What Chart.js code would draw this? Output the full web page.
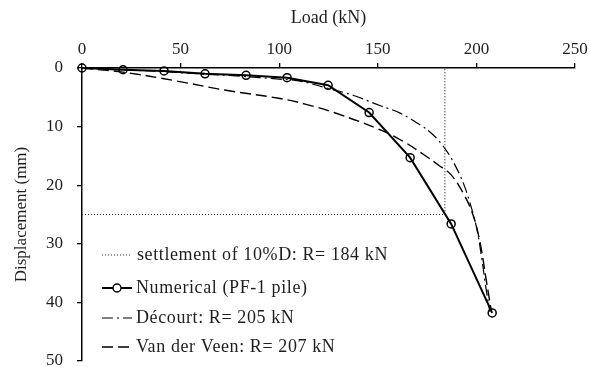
<!DOCTYPE html>
<html>
<head>
<meta charset="utf-8">
<script src="https://cdn.jsdelivr.net/npm/chart.js@4/dist/chart.umd.min.js"></script>
<style>
  html, body { margin: 0; padding: 0; background: #ffffff; }
  #wrap { width: 589px; height: 367px; }
</style>
</head>
<body>
<div id="wrap"><canvas id="c" width="589" height="367"></canvas></div>
<script>
// Load–settlement curves of pile PF-1 and the extrapolated ultimate loads

// Settlement criterion (10% of the diameter): horizontal at 25 mm, vertical at R = 184 kN
const limitLoad = [0, 184, 184];
const limitDisp = [25, 25, 0];

// Numerical model (PF-1 pile)
const numLoad = [0, 20.8, 41.6, 62.4, 83.2, 104, 124.8, 145.6, 166.4, 187.2, 208];
const numDisp = [0, 0.3, 0.5, 1.0, 1.25, 1.65, 2.95, 7.6, 15.3, 26.6, 41.8];

// Décourt extrapolation (R = 205 kN)
const decLoad = [0, 20, 40, 60, 80, 100, 110, 125, 137.4, 151, 161.3, 171.4, 178, 184.6, 189.8, 194.0, 197.6, 200.3, 202.6, 204.6, 206.8];
const decDisp = [0, 0.3, 0.6, 1.0, 1.4, 1.9, 2.2, 3.5, 4.65, 6.4, 7.7, 9.7, 11.4, 14.0, 17.0, 20.2, 24.0, 27.6, 32.2, 37.0, 41.6];

// Van der Veen extrapolation (R = 207 kN)
const vdvLoad = [0, 20.6, 47.7, 73, 100.4, 113.6, 127.8, 151.6, 163.3, 173.4, 180.5, 187.1, 193.7, 198.3, 201.8, 204.9, 207.6];
const vdvDisp = [0, 0.7, 2.2, 3.8, 5.2, 6.2, 7.6, 10.6, 12.6, 14.8, 16.5, 18.2, 21.6, 25.1, 29.7, 36.0, 41.5];

const seriesLabels = [
  'settlement of 10%D: R= 184 kN',
  'Numerical (PF-1 pile)',
  'Décourt: R= 205 kN',
  'Van der Veen: R= 207 kN'
];

const xTitle = 'Load (kN)';
const yTitle = 'Displacement (mm)';

const toPoints = (xs, ys) => xs.map((x, i) => ({ x: x, y: ys[i] }));

const serif = "'Liberation Serif', 'Times New Roman', serif";
const inkColor = '#1e1e1e';

// Legend drawn inside the plot, lower-left corner
const insideLegend = {
  id: 'insideLegend',
  afterDraw(chart) {
    const ctx = chart.ctx;
    const rowsY = [255, 288, 318, 347];
    const x0 = 102, x1 = 132, textX = 136;
    ctx.save();
    chart.data.datasets.forEach((ds, i) => {
      const y = rowsY[i];
      ctx.strokeStyle = ds.borderColor;
      ctx.lineWidth = ds.borderWidth;
      ctx.setLineDash(ds.borderDash || []);
      ctx.beginPath();
      ctx.moveTo(x0, y);
      ctx.lineTo(i === 0 ? 130 : x1, y);
      ctx.stroke();
      ctx.setLineDash([]);
      if (ds.pointRadius > 0) {
        ctx.lineWidth = ds.pointBorderWidth;
        ctx.beginPath();
        ctx.arc((x0 + x1) / 2, y, ds.pointRadius, 0, Math.PI * 2);
        ctx.fillStyle = '#ffffff';
        ctx.fill();
        ctx.stroke();
      }
      ctx.fillStyle = inkColor;
      ctx.font = '18px ' + serif;
      if ('letterSpacing' in ctx) ctx.letterSpacing = '0.6px';
      ctx.textBaseline = 'middle';
      ctx.textAlign = 'left';
      ctx.fillText(ds.label, i === 0 ? 137 : textX, y);
    });
    ctx.restore();
  }
};

// Keep the plot box fixed: no extra room reserved for overhanging tick labels
function zeroScalePadding(scale) {
  scale.paddingLeft = 0;
  scale.paddingRight = 0;
  scale.paddingTop = 0;
  scale.paddingBottom = 0;
}

new Chart(document.getElementById('c'), {
  type: 'line',
  data: {
    datasets: [
      {
        label: seriesLabels[0],
        data: toPoints(limitLoad, limitDisp),
        borderColor: '#333333',
        borderWidth: 1.2,
        borderDash: [1, 2],
        pointRadius: 0,
        tension: 0,
        fill: false
      },
      {
        label: seriesLabels[1],
        data: toPoints(numLoad, numDisp),
        borderColor: '#000000',
        borderWidth: 2,
        pointRadius: 4,
        pointBorderWidth: 1.5,
        pointBorderColor: '#000000',
        pointBackgroundColor: 'rgba(0,0,0,0)',
        tension: 0,
        fill: false,
        clip: false
      },
      {
        label: seriesLabels[2],
        data: toPoints(decLoad, decDisp),
        borderColor: '#000000',
        borderWidth: 1.2,
        borderDash: [11, 4, 2, 4],
        pointRadius: 0,
        tension: 0.4,
        fill: false
      },
      {
        label: seriesLabels[3],
        data: toPoints(vdvLoad, vdvDisp),
        borderColor: '#000000',
        borderWidth: 1.4,
        borderDash: [11, 5],
        pointRadius: 0,
        tension: 0.4,
        fill: false
      }
    ]
  },
  options: {
    responsive: false,
    devicePixelRatio: 1,
    animation: false,
    layout: { padding: { left: 0, top: 2, right: 14, bottom: 6 } },
    plugins: {
      legend: { display: false },
      tooltip: { enabled: false }
    },
    scales: {
      x: {
        type: 'linear',
        position: 'top',
        min: 0,
        max: 250,
        ticks: {
          stepSize: 50,
          padding: 3,
          color: inkColor,
          font: { family: serif, size: 17 }
        },
        grid: {
          display: true,
          drawOnChartArea: false,
          drawTicks: true,
          tickLength: 5,
          color: '#000000',
          lineWidth: 1.3
        },
        border: { display: true, color: '#000000', width: 1.5 },
        title: {
          display: true,
          text: xTitle,
          color: inkColor,
          font: { family: serif, size: 18 },
          padding: { top: 5, bottom: 0 }
        },
        afterFit(scale) { scale.height = 66; zeroScalePadding(scale); }
      },
      y: {
        type: 'linear',
        position: 'left',
        reverse: true,
        min: 0,
        max: 50,
        ticks: {
          stepSize: 10,
          padding: 14,
          color: inkColor,
          font: { family: serif, size: 17 }
        },
        grid: {
          display: true,
          drawOnChartArea: false,
          drawTicks: true,
          tickLength: 5,
          color: '#000000',
          lineWidth: 1.3
        },
        border: { display: true, color: '#000000', width: 1.5 },
        title: {
          display: true,
          text: yTitle,
          color: inkColor,
          font: { family: serif, size: 17 },
          padding: { top: 11, bottom: 0 }
        },
        afterFit(scale) { scale.width = 82; zeroScalePadding(scale); }
      }
    }
  },
  plugins: [insideLegend]
});
</script>
</body>
</html>
